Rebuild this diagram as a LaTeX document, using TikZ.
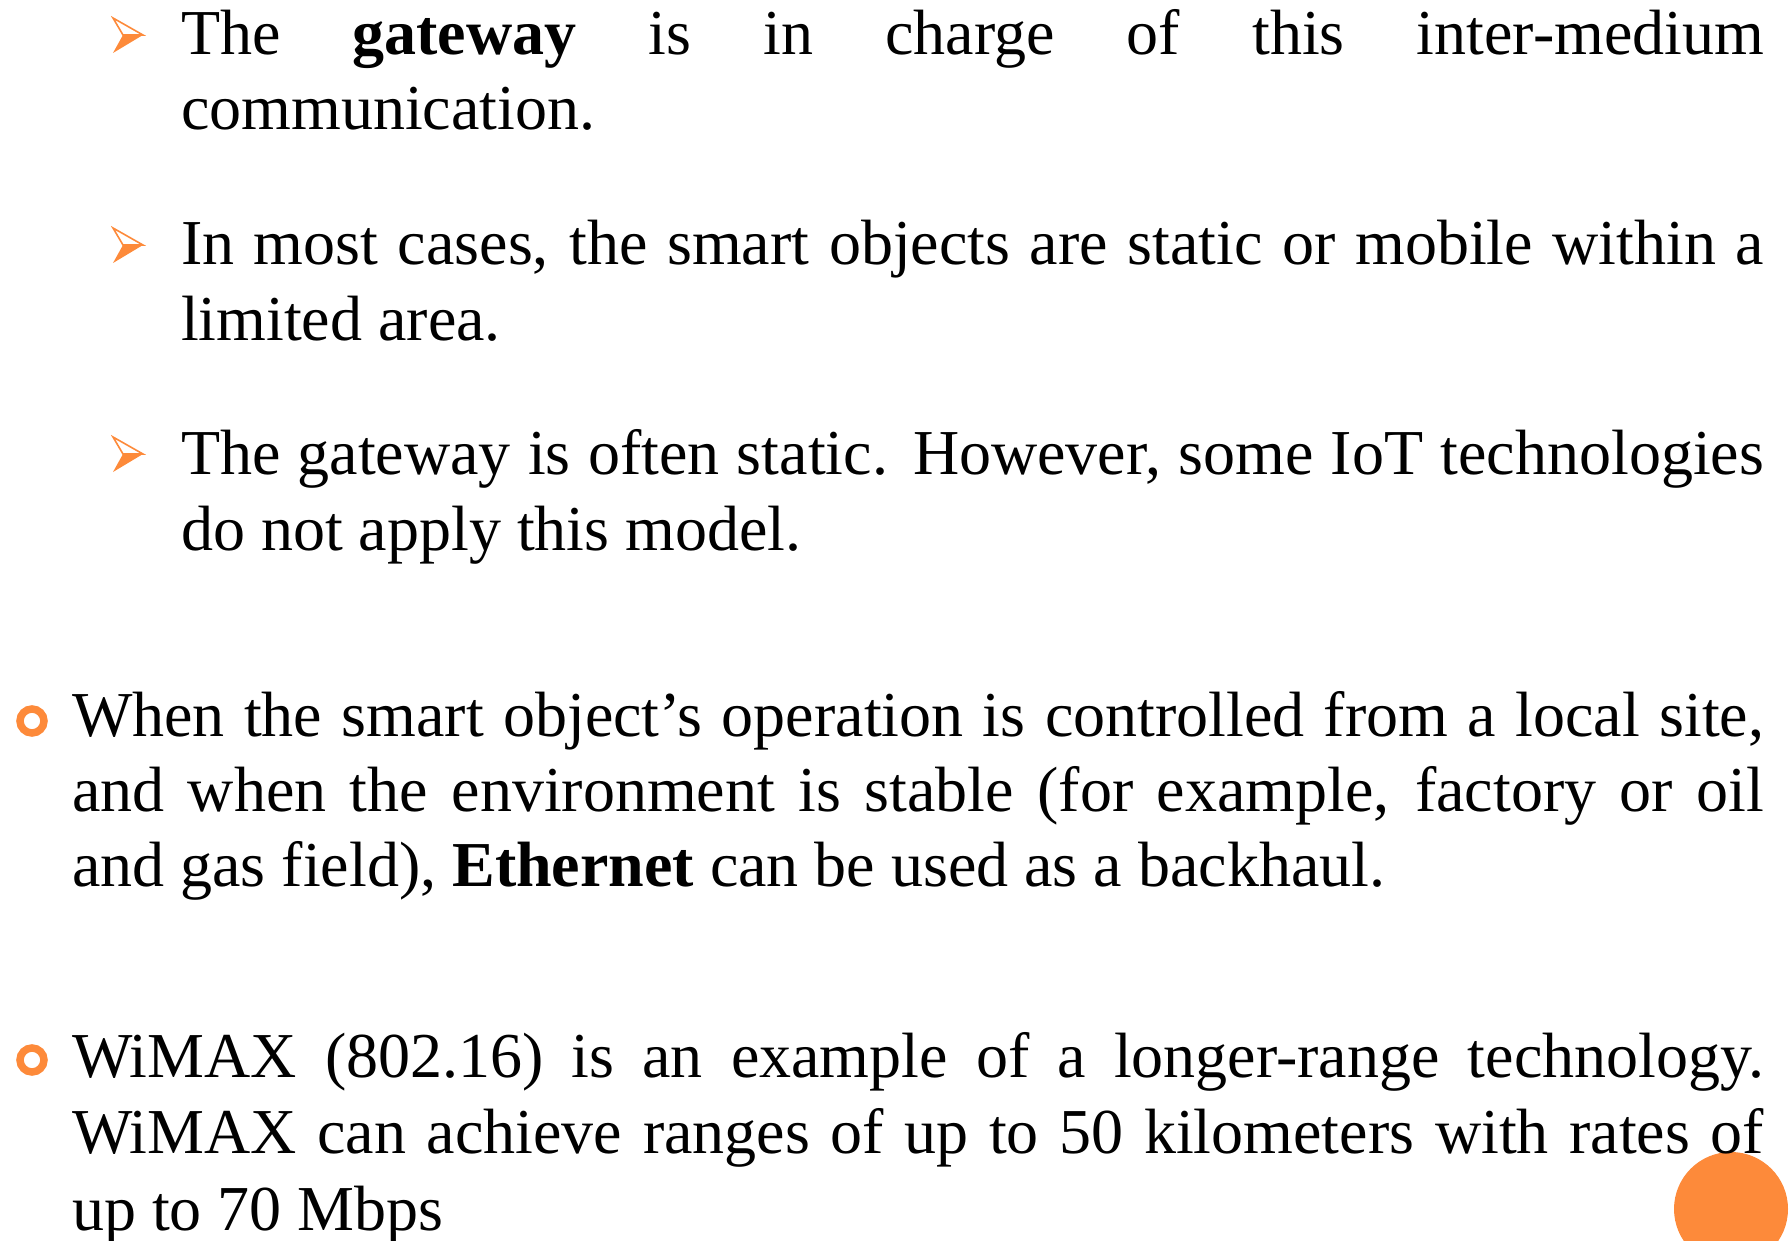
\documentclass[tikz,border=0pt]{standalone}
\usepackage{fontspec}
\setmainfont{Liberation Serif}
\definecolor{accent}{HTML}{FD8A3A}
\tikzset{
  txt/.style={anchor=base west, inner sep=0pt, outer sep=0pt,
              font=\fontsize{64}{76}\selectfont},
  ringbullet/.style={draw=accent, line width=7.5pt},
}
% a line stretched to a given width (justified)
\newcommand\justline[2]{\makebox[#1pt][s]{#2}}

\begin{document}
\begin{tikzpicture}[x=1pt,y=-1pt]
\useasboundingbox (0,0) rectangle (1791,1241);
\clip (0,0) rectangle (1791,1241);

% corner disc
\fill[accent] (1731,1209) circle (57);

% arrowhead bullets (centre 20 above the baseline)
\foreach \c in {35,245,454}{
  \draw[accent, line width=1.6pt, line join=miter] (113,\c-17) -- (143,\c) -- (123,\c) -- cycle;
  \fill[accent] (123,\c) -- (143,\c) -- (113,\c+18) -- cycle;
}

% ring bullets
\draw[ringbullet] (32,721) circle (12);
\draw[ringbullet] (32,1060) circle (12);

% sub-points
\node[txt] (s1a) at (181,55)  {\justline{1583}{The \textbf{gateway} is in charge of this inter-medium}};
\node[txt] (s1b) at (181,130) {communication.};
\node[txt] (s2a) at (181,265) {\justline{1583}{In most cases, the smart objects are static or mobile within a}};
\node[txt] (s2b) at (181,340) {limited area.};
\node[txt] (s3a) at (181,474) {\justline{1583}{The gateway is often static. However, some IoT technologies}};
\node[txt] (s3b) at (181,550) {do not apply this model.};

% main points
\node[txt] (m1a) at (72,736)  {\justline{1692}{When the smart object’s operation is controlled from a local site,}};
\node[txt] (m1b) at (72,811)  {\justline{1692}{and when the environment is stable (for example, factory or oil}};
\node[txt] (m1c) at (72,886)  {and gas field), \textbf{Ethernet} can be used as a backhaul.};
\node[txt] (m2a) at (72,1077) {\justline{1692}{WiMAX (802.16) is an example of a longer-range technology.}};
\node[txt] (m2b) at (72,1153) {\justline{1692}{WiMAX can achieve ranges of up to 50 kilometers with rates of}};
\node[txt] (m2c) at (72,1230) {up to 70 Mbps};
\end{tikzpicture}
\end{document}
